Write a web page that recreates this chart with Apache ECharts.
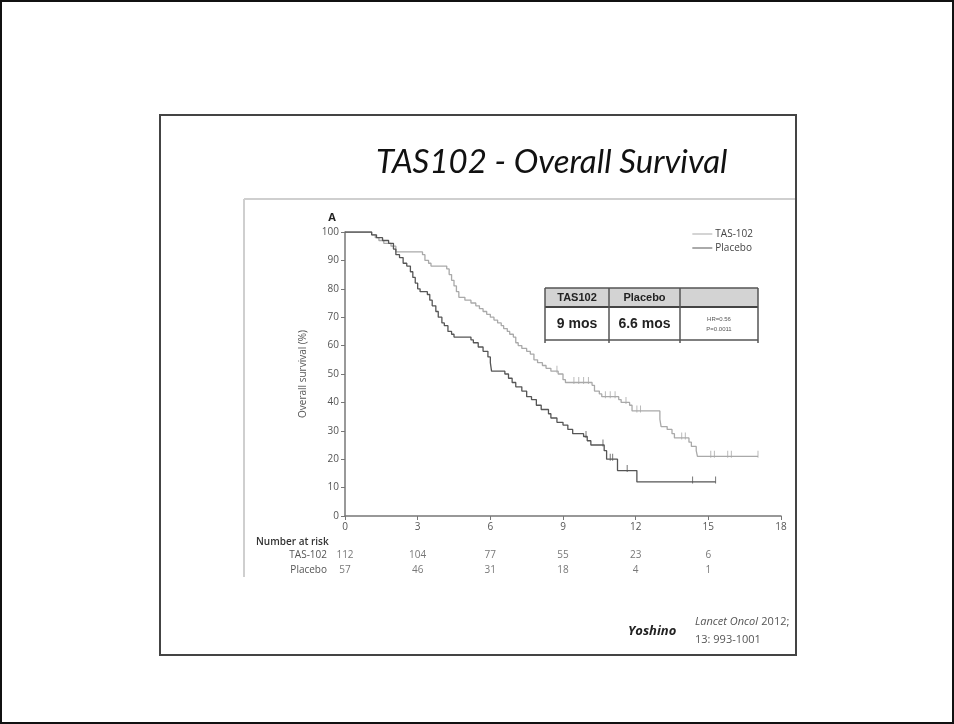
<!DOCTYPE html>
<html>
<head>
<meta charset="utf-8">
<title>TAS102 - Overall Survival</title>
<script src="https://cdn.jsdelivr.net/npm/echarts@6/dist/echarts.min.js"></script>
<style type="text/css">
    *{margin:0;padding:0;}
    body{width:954px;height:724px;overflow:hidden;background:#fff;}
    #main{width:954px;height:724px;}
</style>
</head>
<body>
<div id="main"></div>
<script type="text/javascript">
    // KM steps: [months, survival %]
    var tasSteps = [[0,100],[1.1,99],[1.25,98],[1.4,97],[1.6,96],[1.9,95],[2.1,93],[3.2,92],[3.3,90],[3.45,89],[3.55,88],
        [4.2,87],[4.3,85],[4.4,83],[4.5,81],[4.6,79],[4.7,77],[4.95,76],[5.2,75],[5.4,74],[5.55,73],[5.7,72],[5.85,71],
        [6.0,70],[6.15,69],[6.3,68],[6.45,67],[6.55,66],[6.7,65],[6.8,64],[6.95,63],[7.05,61],[7.15,60],[7.3,59],[7.5,58],
        [7.65,57],[7.8,55],[7.95,54],[8.15,53],[8.3,52],[8.5,51],[8.8,50],[9.0,48],[9.1,47],[10.2,46],[10.3,44],[10.5,43],
        [10.6,42],[11.3,41],[11.4,40],[11.75,39],[11.85,37],[13.0,34],[13.05,31.5],[13.3,30.5],[13.5,29],[13.6,27.5],
        [14.2,26],[14.3,24.5],[14.5,23],[14.55,21],[17.05,21]];
    var placeboSteps = [[0,100],[1.1,99],[1.3,98],[1.55,97],[1.8,96],[2.0,94],[2.1,92],[2.25,91],[2.4,89],[2.55,88],
        [2.7,86],[2.8,84],[2.9,82],[3.0,80],[3.1,79],[3.4,78],[3.5,76],[3.6,74],[3.75,72],[3.85,70],[4.0,68],[4.1,67],
        [4.25,65],[4.4,64],[4.5,63],[5.2,62],[5.3,61],[5.5,59.5],[5.7,58],[5.9,56],[6.0,54],[6.05,51],[6.6,50],[6.75,48.5],
        [6.9,47],[7.05,45.5],[7.3,44],[7.5,42],[7.7,41],[7.9,39],[8.1,37.5],[8.4,36],[8.5,34.5],[8.75,33],[9.0,32],
        [9.2,30.5],[9.4,29],[9.85,28],[10.0,26.5],[10.15,25],[10.7,23],[10.8,20],[11.25,16],[12.05,12],[15.3,12]];
    // censoring ticks
    var tasCensor = [[8.75,51],[9.45,47],[9.65,47],[9.85,47],[10.05,47],[10.75,42],[10.95,42],[11.15,42],[11.6,40],
        [12.05,37],[12.2,37],[13.9,27.5],[14.05,27.5],[15.1,21],[15.25,21],[15.8,21],[15.95,21],[17.05,21]];
    var placeboCensor = [[9.95,28],[10.65,25],[10.95,20],[11.05,20],[11.65,16],[14.35,12],[15.3,12]];

    var riskTimes = [0, 3, 6, 9, 12, 15];
    var riskGroups = ['TAS-102', 'Placebo'];
    var riskTas = [112, 104, 77, 55, 23, 6];
    var riskPlacebo = [57, 46, 31, 18, 4, 1];

    var tableHead = ['TAS102', 'Placebo', ''];
    var tableBody = ['9 mos', '6.6 mos'];
    var tableStats = ['HR=0.56', 'P=0.0011'];

    var cTas = '#a9a9a9';
    var cPla = '#555555';
    var fAxis = '"Open Sans", "DejaVu Sans", sans-serif';

    var riskData = [];
    for (var i = 0; i < riskTimes.length; i++) {
        riskData.push({value: [riskTimes[i], 'TAS-102'], label: {formatter: String(riskTas[i])}});
        riskData.push({value: [riskTimes[i], 'Placebo'], label: {formatter: String(riskPlacebo[i])}});
    }

    // table (HR box) as graphics
    var tx = [545, 609, 680, 758];
    var tTop = 288, tMid = 307, tBot = 340;
    var tableG = [
        {type: 'rect', shape: {x: tx[0], y: tTop, width: tx[3] - tx[0], height: tMid - tTop}, style: {fill: '#d3d3d3'}},
        {type: 'line', shape: {x1: tx[0], y1: tTop, x2: tx[3], y2: tTop}, style: {stroke: '#555', lineWidth: 1.5}},
        {type: 'line', shape: {x1: tx[0], y1: tMid, x2: tx[3], y2: tMid}, style: {stroke: '#444', lineWidth: 2}},
        {type: 'line', shape: {x1: tx[0], y1: tBot, x2: tx[3], y2: tBot}, style: {stroke: '#555', lineWidth: 1.5}}
    ];
    for (var k = 0; k < tx.length; k++) {
        tableG.push({type: 'line', shape: {x1: tx[k], y1: tTop, x2: tx[k], y2: tBot + 3}, style: {stroke: '#555', lineWidth: 1.5}});
    }
    for (var k = 0; k < 2; k++) {
        tableG.push({type: 'text', x: (tx[k] + tx[k + 1]) / 2, y: (tTop + tMid) / 2,
            style: {text: tableHead[k], font: 'bold 11px "Liberation Sans", Arial, sans-serif', fill: '#222', align: 'center', verticalAlign: 'middle'}});
        tableG.push({type: 'text', x: (tx[k] + tx[k + 1]) / 2, y: (tMid + tBot) / 2 + 1,
            style: {text: tableBody[k], font: 'bold 14px "Liberation Sans", Arial, sans-serif', fill: '#222', align: 'center', verticalAlign: 'middle'}});
    }
    tableG.push({type: 'text', x: (tx[2] + tx[3]) / 2, y: (tMid + tBot) / 2 + 1,
        style: {text: tableStats.join('\n'), font: '6px "Liberation Sans", Arial, sans-serif', lineHeight: 10, fill: '#555', align: 'center', verticalAlign: 'middle'}});

    var myChart = echarts.init(document.getElementById('main'));
    var option = {
        backgroundColor: '#fff',
        animation: false,
        legend: {
            right: 196, top: 224, orient: 'vertical', itemGap: 4, itemWidth: 20, itemHeight: 8,
            icon: 'path://M0,4 L20,4 L20,5 L0,5 Z',
            textStyle: {fontSize: 10, color: '#444', fontFamily: fAxis, padding: [0, 0, 0, -2]},
            data: ['TAS-102', 'Placebo']
        },
        grid: [
            {left: 345, right: 173, top: 232, bottom: 208},
            {left: 345, right: 173, top: 548, height: 30}
        ],
        xAxis: [
            {
                type: 'value', gridIndex: 0, min: 0, max: 18, interval: 3,
                axisLine: {lineStyle: {color: '#777', width: 1.5}},
                axisTick: {length: 4, lineStyle: {color: '#777'}},
                axisLabel: {color: '#555', fontSize: 10, fontFamily: fAxis, margin: 6},
                splitLine: {show: false}
            },
            {
                type: 'value', gridIndex: 1, min: 0, max: 18,
                axisLine: {show: false}, axisTick: {show: false}, axisLabel: {show: false}, splitLine: {show: false}
            }
        ],
        yAxis: [
            {
                type: 'value', gridIndex: 0, min: 0, max: 100, interval: 10,
                name: 'Overall survival (%)', nameLocation: 'middle', nameGap: 37,
                nameTextStyle: {color: '#555', fontSize: 10, fontFamily: fAxis},
                axisLine: {show: true, lineStyle: {color: '#777', width: 1.5}},
                axisTick: {show: true, length: 4, lineStyle: {color: '#777'}},
                axisLabel: {color: '#555', fontSize: 10, fontFamily: fAxis, margin: 6},
                splitLine: {show: false}
            },
            {
                type: 'category', gridIndex: 1, inverse: true, data: riskGroups,
                axisLine: {show: false}, axisTick: {show: false}, splitLine: {show: false},
                axisLabel: {color: '#555', fontSize: 10, fontFamily: fAxis, margin: 18}
            }
        ],
        series: [
            {
                name: 'TAS-102', type: 'line', step: 'end', symbol: 'none', xAxisIndex: 0, yAxisIndex: 0,
                lineStyle: {color: cTas, width: 1.3}, itemStyle: {color: cTas}, data: tasSteps
            },
            {
                name: 'Placebo', type: 'line', step: 'end', symbol: 'none', xAxisIndex: 0, yAxisIndex: 0,
                lineStyle: {color: cPla, width: 1.3}, itemStyle: {color: cPla}, data: placeboSteps
            },
            {
                type: 'scatter', symbol: 'rect', symbolSize: [1, 7], symbolOffset: [0, -2], xAxisIndex: 0, yAxisIndex: 0,
                itemStyle: {color: cTas}, data: tasCensor, silent: true
            },
            {
                type: 'scatter', symbol: 'rect', symbolSize: [1, 7], symbolOffset: [0, -2], xAxisIndex: 0, yAxisIndex: 0,
                itemStyle: {color: cPla}, data: placeboCensor, silent: true
            },
            {
                type: 'scatter', xAxisIndex: 1, yAxisIndex: 1, symbolSize: 0, silent: true,
                label: {show: true, position: 'inside', color: '#555', fontSize: 10, fontFamily: fAxis},
                data: riskData
            }
        ],
        graphic: [
            {type: 'rect', shape: {x: 1, y: 1, width: 952, height: 722}, style: {fill: 'none', stroke: '#111', lineWidth: 2}},
            {type: 'rect', shape: {x: 160, y: 115, width: 636, height: 540}, style: {fill: 'none', stroke: '#444', lineWidth: 2}},
            {type: 'line', shape: {x1: 244, y1: 199, x2: 795, y2: 199}, style: {stroke: '#cfcfcf', lineWidth: 2}},
            {type: 'line', shape: {x1: 244, y1: 199, x2: 244, y2: 577}, style: {stroke: '#cfcfcf', lineWidth: 2}},
            {type: 'text', x: 376, y: 146, style: {text: 'TAS102 - Overall Survival', font: 'italic 33px Lato, "Open Sans", sans-serif', fill: '#111'}},
            {type: 'text', x: 332, y: 218, style: {text: 'A', font: 'bold 11px "Open Sans", sans-serif', fill: '#222', align: 'center', verticalAlign: 'middle'}},
            {type: 'text', x: 256, y: 542, style: {text: 'Number at risk', font: '600 10px "Open Sans", sans-serif', fill: '#333', verticalAlign: 'middle'}},
            {type: 'text', x: 628, y: 631, style: {text: 'Yoshino', font: 'italic bold 13px "Open Sans", sans-serif', fill: '#222', verticalAlign: 'middle'}},
            {type: 'text', x: 695, y: 622, style: {
                text: '{i|Lancet Oncol} {n|2012;}', verticalAlign: 'middle',
                rich: {
                    i: {font: 'italic 11px "Open Sans", sans-serif', fill: '#555'},
                    n: {font: '11px "Open Sans", sans-serif', fill: '#555'}
                }
            }},
            {type: 'text', x: 695, y: 640, style: {text: '13: 993-1001', font: '11px "Open Sans", sans-serif', fill: '#555', verticalAlign: 'middle'}}
        ].concat(tableG)
    };
    myChart.setOption(option);
</script>
</body>
</html>
